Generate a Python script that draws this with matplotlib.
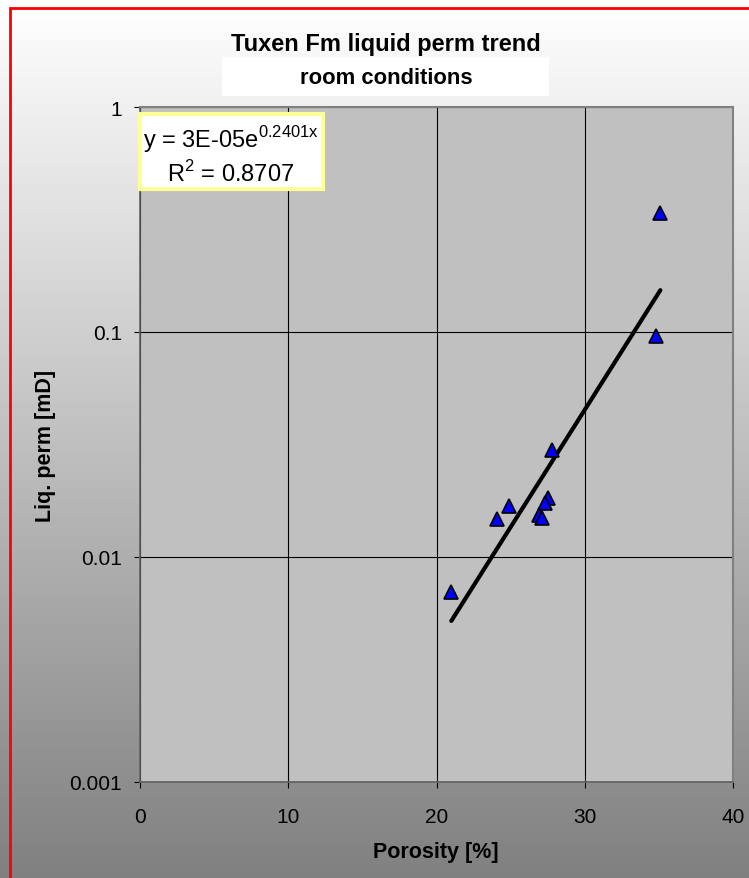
import numpy as np
import matplotlib
matplotlib.use('Agg')
import matplotlib.pyplot as plt
from matplotlib.patches import Rectangle

plt.rcParams['font.family'] = ['Liberation Sans', 'DejaVu Sans']

# porosity [%] and liquid permeability [mD]
porosity = [35.1, 34.8, 27.8, 27.5, 27.3, 26.9, 27.1, 24.9, 24.1, 21.0]
liq_perm = [0.338, 0.096, 0.030, 0.0183, 0.0174, 0.0154, 0.0149, 0.0169, 0.0147, 0.0070]

x_ticks = [0, 10, 20, 30, 40]
y_ticks = [0.001, 0.01, 0.1, 1]
y_tick_labels = ['0.001', '0.01', '0.1', '1']

W, H = 749, 879
fig = plt.figure(figsize=(W / 100, H / 100), dpi=100)

def fx(px):
    return px / W

def fy(py):
    return 1 - py / H

# gradient background (white at top -> gray at bottom)
bg = fig.add_axes([0, 0, 1, 1], zorder=-10)
grad = np.linspace(0.5, 1.0, 256).reshape(-1, 1)
bg.imshow(grad, aspect='auto', cmap='gray', vmin=0, vmax=1, origin='lower',
          extent=[0, 1, 0, 1])
bg.set_xlim(0, 1)
bg.set_ylim(0, 1)
bg.axis('off')
# red frame (right and bottom edges run off the image)
bg.add_patch(Rectangle((fx(10), -0.01), 1.1, fy(9) + 0.01, fill=False,
                       edgecolor='red', linewidth=2, transform=bg.transAxes))
# white box behind the title
bg.add_patch(Rectangle((fx(222), fy(97)), fx(549) - fx(222), fy(58) - fy(97),
                       facecolor='white', edgecolor='none', transform=bg.transAxes))

ax = fig.add_axes([fx(140), fy(783), fx(733) - fx(140), fy(108) - fy(783)])
ax.set_facecolor('#C0C0C0')
ax.set_yscale('log')
ax.set_xlim(0, 40)
ax.set_ylim(0.001, 1)
ax.set_xticks(x_ticks)
ax.set_xticklabels([str(t) for t in x_ticks])
ax.set_yticks(y_ticks)
ax.set_yticklabels(y_tick_labels)
ax.minorticks_off()
ax.grid(True, color='black', linewidth=0.8)
ax.set_axisbelow(True)
ax.tick_params(axis='both', direction='out', length=4.3, width=0.8,
               labelsize=15, colors='black')
ax.tick_params(axis='y', pad=8.5)
ax.tick_params(axis='x', pad=13.5)
for side in ['top', 'right']:
    ax.spines[side].set_color('#808080')
    ax.spines[side].set_linewidth(1.5)
for side in ['left', 'bottom']:
    ax.spines[side].set_color('#606060')
    ax.spines[side].set_linewidth(1.2)

# exponential trend fitted on the data
b, ln_a = np.polyfit(porosity, np.log(liq_perm), 1)
xs = np.linspace(min(porosity), max(porosity), 50)
ax.plot(xs, np.exp(ln_a) * np.exp(b * xs), color='black', linewidth=3,
        solid_capstyle='round', zorder=3)

ax.plot(porosity, liq_perm, linestyle='none', marker='^', markersize=9.5,
        markerfacecolor='#0000FF', markeredgecolor='black', markeredgewidth=1.2,
        zorder=4)

# axis titles
fig.text(fx(436), fy(853), 'Porosity [%]', ha='center', va='center',
         fontsize=15.5, fontweight='bold')
fig.text(fx(46), fy(446), 'Liq. perm [mD]', ha='center', va='center',
         rotation=90, fontsize=15.5, fontweight='bold')

fig.text(fx(386), fy(45), 'Tuxen Fm liquid perm trend', ha='center', va='center',
         fontsize=17, fontweight='bold')
fig.text(fx(386), fy(78), 'room conditions', ha='center', va='center',
         fontsize=15.8, fontweight='bold')

# equation box, drawn on top of the plot area
box = Rectangle((fx(140), fy(190)), fx(323) - fx(140), fy(115) - fy(190),
                facecolor='white', edgecolor='#FFFF99', linewidth=3,
                transform=fig.transFigure, zorder=5)
fig.add_artist(box)
fig.text(fx(231), fy(148), r'y = 3E-05e$^{\mathregular{0.2401x}}$', ha='center',
         va='baseline', fontsize=17, zorder=6)
fig.text(fx(231), fy(182), r'R$^{\mathregular{2}}$ = 0.8707', ha='center',
         va='baseline', fontsize=17, zorder=6)

fig.savefig('out.png', dpi=100)
